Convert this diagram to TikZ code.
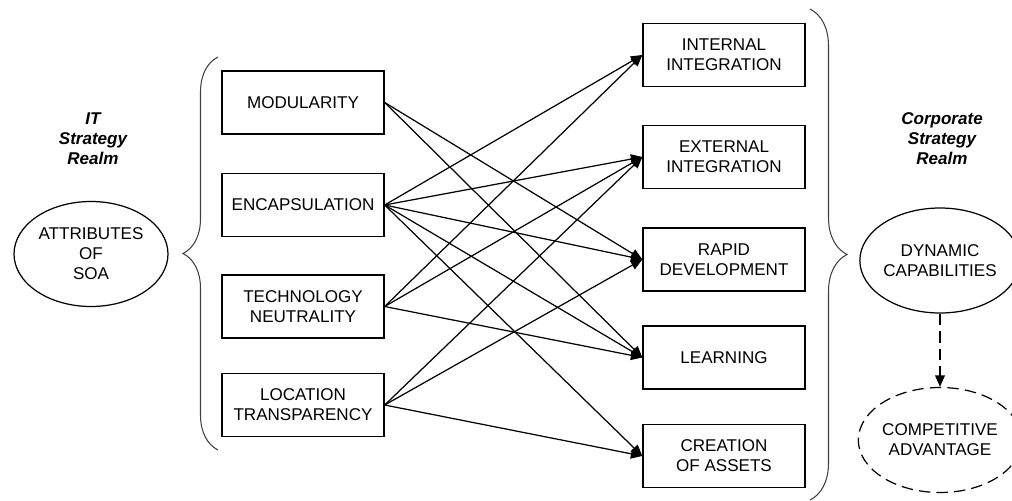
\documentclass[tikz,border=0pt]{standalone}
\usepackage{fontspec}
\setmainfont{Liberation Sans}
\usepackage{tikz}
\usetikzlibrary{arrows.meta, shapes.geometric, decorations.pathreplacing}

\begin{document}
\begin{tikzpicture}[
    font=\fontsize{9.7pt}{11.4pt}\selectfont,
    >={Triangle[length=6.5pt, width=5.5pt]},
    box/.style={draw, line width=0.8pt, minimum width=3.24cm, minimum height=1.26cm, align=center},
    blob/.style={draw, ellipse, line width=0.7pt, minimum width=3.08cm, minimum height=2.1cm, align=center, inner sep=0pt},
    realm/.style={font=\fontsize{9.7pt}{11.4pt}\selectfont\bfseries\itshape, align=center},
    link/.style={->, line width=0.7pt},
    dashline/.style={dash pattern=on 6.5pt off 3.5pt},
    curly/.style={decorate, draw=black!75, line width=0.6pt}
]
    \useasboundingbox (0, 0) rectangle (20.24, -10.02);

    % left side
    \node[realm] at (1.86, -2.78) (itrealm) {IT\\Strategy\\Realm};
    \node[blob] at (1.82, -5.08) (soa) {ATTRIBUTES\\OF\\SOA};

    \node[box] at (6.06, -2.05) (mod) {MODULARITY};
    \node[box] at (6.06, -4.10) (enc) {ENCAPSULATION};
    \node[box] at (6.06, -6.13) (tech) {TECHNOLOGY\\NEUTRALITY};
    \node[box] at (6.06, -8.10) (loc) {LOCATION\\TRANSPARENCY};

    % right side
    \node[box] at (14.48, -1.10) (int) {INTERNAL\\INTEGRATION};
    \node[box] at (14.48, -3.14) (ext) {EXTERNAL\\INTEGRATION};
    \node[box] at (14.48, -5.19) (rapid) {RAPID\\DEVELOPMENT};
    \node[box] at (14.48, -7.15) (learn) {LEARNING};
    \node[box] at (14.48, -9.12) (assets) {CREATION\\OF ASSETS};

    \node[realm] at (18.84, -2.78) (corprealm) {Corporate\\Strategy\\Realm};
    \node[blob] at (18.80, -5.21) (dyn) {DYNAMIC\\CAPABILITIES};
    \node[blob, dashline] at (18.80, -8.80) (comp) {COMPETITIVE\\ADVANTAGE};

    % braces
    \coordinate (lb1) at (4.36, -9.00);
    \coordinate (lb2) at (4.36, -1.14);
    \coordinate (rb1) at (16.20, -0.18);
    \coordinate (rb2) at (16.20, -10.00);
    \draw[curly, decoration={brace, amplitude=0.70cm}] (lb1) -- (lb2);
    \draw[curly, decoration={brace, amplitude=0.74cm}] (rb1) -- (rb2);

    % edges
    \draw[link] (mod.east) -- (rapid.west);
    \draw[link] (mod.east) -- (learn.west);

    \draw[link] (enc.east) -- (int.west);
    \draw[link] (enc.east) -- (ext.west);
    \draw[link] (enc.east) -- (rapid.west);
    \draw[link] (enc.east) -- (learn.west);
    \draw[link] (enc.east) -- (assets.west);

    \draw[link] (tech.east) -- (int.west);
    \draw[link] (tech.east) -- (ext.west);
    \draw[link] (tech.east) -- (learn.west);

    \draw[link] (loc.east) -- (ext.west);
    \draw[link] (loc.east) -- (rapid.west);
    \draw[link] (loc.east) -- (assets.west);

    % capabilities to advantage
    \draw[link, dashline] (dyn.south) -- (comp.north);
\end{tikzpicture}
\end{document}
